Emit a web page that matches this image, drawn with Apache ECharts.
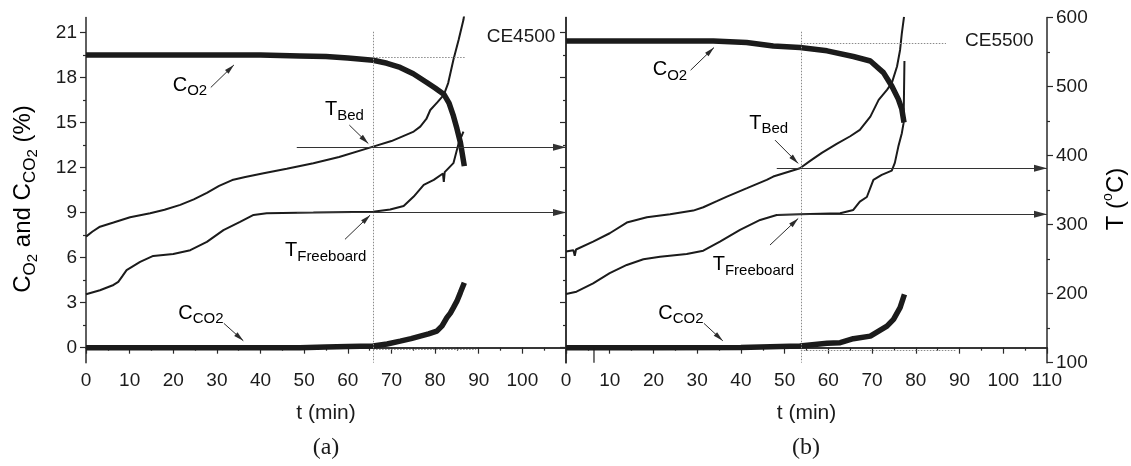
<!DOCTYPE html>
<html>
<head>
<meta charset="utf-8">
<script src="https://cdn.jsdelivr.net/npm/echarts@6/dist/echarts.min.js"></script>
<style>
  html, body { margin: 0; padding: 0; background: #fff; }
  #chart { width: 1131px; height: 466px; }
</style>
</head>
<body>
<div id="chart"></div>
<script>
// ---------- tick values ----------
const timeTicks = [0, 10, 20, 30, 40, 50, 60, 70, 80, 90, 100, 110];
const pctTicks = [0, 3, 6, 9, 12, 15, 18, 21];
const pctMinorTicks = [1.5, 4.5, 7.5, 10.5, 13.5, 16.5, 19.5];
const tempTicks = [100, 200, 300, 400, 500, 600];

// ---------- (a) CE4500 : [t (min), value] ----------
const o2A = [[0,19.5],[10,19.5],[20,19.5],[30,19.5],[40,19.5],[49,19.44],[55,19.4],[60,19.3],[65.8,19.15],
  [69,18.95],[72,18.67],[75,18.25],[78.1,17.67],[80,17.3],[82,16.89],[83.2,16.3],[84.2,15.44],[85,14.6],
  [85.8,13.67],[86.7,12.1]];
const co2A = [[0,0],[20,0],[40,0],[49,0],[55,0.05],[60,0.08],[65.8,0.11],[69,0.25],[72,0.44],[74.5,0.6],
  [76.6,0.77],[78.5,0.92],[80.4,1.1],[81.6,1.45],[82.7,2.0],[83.5,2.3],[84.2,2.67],[85,3.1],[85.8,3.67],[86.7,4.33]];
const tBedA = [[0,282.6],[1.5,290],[3.2,297],[6.3,303],[10.1,310.7],[14.7,316.5],[18,321.5],[21.6,328.6],
  [24.7,336.5],[27.7,346],[30.5,356],[33.5,364.5],[36.5,369],[40.7,374.5],[46,381],[52.1,389],[58,398],
  [65.8,413],[70,421],[75.1,434.8],[76.6,442],[78,453],[78.9,466],[80.5,477],[82,488],[83,505],
  [84.2,538.7],[85.4,567.7],[86.5,596.7],[86.7,605]];
const tFreeA = [[0,199.1],[3.2,205],[6.3,212.6],[7.4,217],[8.3,225],[9.3,234],[12.4,246],[15.4,254.6],
  [20,257.5],[23.9,263],[27.7,275],[31.5,292],[35.3,304],[38.4,314],[41.4,316.5],[52.1,317.4],[65.8,318.8],
  [69.7,322],[72.8,327],[75.1,340.6],[77.4,357.5],[79.7,364.8],[81.8,374],[82.0,362],[82.2,376],
  [84.2,389],[85.4,418],[86.5,434.8]];

// ---------- (b) CE5500 ----------
const o2B = [[0,20.44],[10,20.44],[21.5,20.44],[33.7,20.44],[41.3,20.33],[47.4,20.1],[53.5,20.0],
  [59.7,19.78],[65.7,19.4],[69.6,19.1],[72.6,18.33],[74.5,17.44],[76,16.56],[76.8,15.89],[77.3,15.0]];
const co2B = [[0,0],[20,0],[40,0.02],[53.5,0.11],[59.7,0.29],[62.7,0.33],
  [65.7,0.6],[69.6,0.77],[73.4,1.44],[74.9,1.89],[76.4,2.67],[77.4,3.55]];
const co2BDropout = [[6.4,0],[6.4,-1]];
const tBedB = [[0,261],[1.7,263],[2.0,255],[2.3,264],[6.2,275.4],[10,287.5],[13.9,303],[18.5,310.7],
  [23.8,315],[29.1,320.3],[31.4,325.2],[34.5,334],[36.8,340.6],[41.4,352.8],[45.9,364.8],[47.4,369.6],
  [53.5,381.7],[56,393],[58.5,404],[61.9,417],[65,428],[67.2,437.2],[69.6,456.5],[71.5,480.7],[73.4,495.2],
  [74.5,505],[75.7,529],[76.4,553],[76.8,577],[77.3,601]];
const tFreeB = [[0,199.6],[2.4,202.9],[6.2,215],[10,229.6],[13.9,241.6],[17.7,249.9],[21.5,253.6],
  [27.6,257.5],[31.4,262.3],[35.2,275.4],[39.8,292.3],[44.4,306.8],[48.2,314],[53.5,315],[62.7,316.5],
  [65.7,321.3],[67.2,333.4],[68.8,340],[70.3,364.8],[72.2,372],[74.5,378.3],[75.2,389.4],[76,413],
  [76.8,432.5],[77.2,447],[77.4,537]];

// ---------- reading guides ----------
const guideA = { t: 65.8, o2: 19.37, co2: -0.1, tBed: 412, tFree: 317.4, o2End: 87.1, co2End: 89.4, arrowFrom: 48.3 };
const guideB = { t: 53.7, o2: 20.27, co2: -0.15, tBed: 381.7, tFree: 315, o2End: 86.9, co2End: 89.2, arrowFrom: 48.2 };

// label pointer arrows, in (t, %) units: [from, to]
const pointersA = [[[28.6,17.34],[33.9,18.84]], [[60.35,14.83],[64.7,13.6]], [[59.35,7.22],[65.1,8.83]], [[31.6,1.62],[36.05,0.46]]];
const pointersB = [[[28.5,18.49],[33.85,20.0]], [[47.8,13.83],[53.1,12.28]], [[46.65,6.84],[53.1,8.61]], [[31.55,1.62],[35.85,0.46]]];

// ---------- styling ----------
const FONT = '"Liberation Sans", Arial, Helvetica, sans-serif';
const SERIF = '"Liberation Serif", "Times New Roman", serif';
const INK = '#1b1b1b';
const AXIS = '#2a2a2a';
// arrow head whose tip sits on the end point
const HEAD = 'path://M5,16L10,32L0,32ZM5,0';

const subRich = {
  m: { fontSize: 20, fontFamily: FONT, color: INK },
  s: { fontSize: 15, fontFamily: FONT, color: INK, padding: [12, 0, 0, 0] }
};
const titleRich = {
  m: { fontSize: 24, fontFamily: FONT, color: INK },
  s: { fontSize: 17, fontFamily: FONT, color: INK, padding: [14, 0, 0, 0] },
  ss: { fontSize: 15, fontFamily: FONT, color: INK, padding: [20, 0, 0, 0] },
  sup: { fontSize: 14, fontFamily: FONT, color: INK, padding: [0, 0, 16, 0] }
};

function xAxes(gridIndex, hideLast) {
  return [{
    type: 'value', gridIndex, min: 0, max: 110, interval: 10, position: 'bottom',
    axisLine: { lineStyle: { color: AXIS, width: 1.5 } },
    axisTick: { length: 6, lineStyle: { color: AXIS, width: 1.2 } },
    minorTick: { show: true, splitNumber: 2, length: 3, lineStyle: { color: AXIS, width: 1.2 } },
    splitLine: { show: false },
    axisLabel: {
      fontSize: 19, fontFamily: FONT, color: INK, margin: 9,
      formatter: v => (hideLast && v === 110) ? '' : String(v)
    },
    name: 't (min)', nameLocation: 'middle', nameGap: 40,
    nameTextStyle: { fontSize: 21, fontFamily: FONT, color: INK }
  }, {
    type: 'value', gridIndex, min: 0, max: 110, interval: 10, position: 'top',
    axisLine: { lineStyle: { color: AXIS, width: 1.5 } },
    axisTick: { inside: true, length: 2, lineStyle: { color: AXIS } },
    axisLabel: { show: false }, splitLine: { show: false }
  }];
}

function pctAxes(gridIndex, withLabels) {
  return [{
    type: 'value', gridIndex, min: -1, max: 22, position: 'left',
    axisLine: { show: true, lineStyle: { color: AXIS, width: 1.5 } },
    axisTick: { length: 6, customValues: pctTicks, lineStyle: { color: AXIS, width: 1.2 } },
    axisLabel: { show: withLabels, customValues: pctTicks, fontSize: 19, fontFamily: FONT, color: INK, margin: 9 },
    splitLine: { show: false }
  }, {
    type: 'value', gridIndex, min: -1, max: 22, position: 'left',
    axisLine: { show: false },
    axisTick: { length: 3, customValues: pctMinorTicks, lineStyle: { color: AXIS, width: 1.2 } },
    axisLabel: { show: false, customValues: pctMinorTicks },
    splitLine: { show: false }
  }];
}

function tempAxis(gridIndex, withLabels) {
  return {
    type: 'value', gridIndex, min: 100, max: 600, interval: 100, position: 'right',
    axisLine: { show: true, lineStyle: { color: AXIS, width: 1.5 } },
    axisTick: { show: withLabels, length: 6, lineStyle: { color: AXIS, width: 1.2 } },
    minorTick: { show: withLabels, splitNumber: 2, length: 3, lineStyle: { color: AXIS, width: 1.2 } },
    axisLabel: { show: withLabels, fontSize: 19, fontFamily: FONT, color: INK, margin: 9 },
    splitLine: { show: false }
  };
}

function dotted(a, b) {
  return [{ coord: a, symbol: 'none' }, { coord: b, symbol: 'none' }];
}
function arrow(a, b, w, h) {
  return [{ coord: a, symbol: 'none' }, { coord: b, symbol: HEAD, symbolSize: [w, h] }];
}

function panelSeries(xi, yPct, yT, o2, co2, tBed, tFree, g, pointers) {
  const base = { type: 'line', xAxisIndex: xi, showSymbol: false, symbol: 'none', animation: false, z: 3 };
  return [
    Object.assign({}, base, {
      name: 'O2', yAxisIndex: yPct, data: o2,
      lineStyle: { color: INK, width: 5.5 },
      markLine: {
        silent: true, animation: false, label: { show: false },
        data: [
          dotted([g.t, 21.05], [g.t, -1]),
          dotted([g.t, g.o2], [g.o2End, g.o2]),
          dotted([g.t, g.co2], [g.co2End, g.co2])
        ],
        lineStyle: { color: '#8a8a8a', width: 1, type: [1.5, 1.5] }
      }
    }),
    Object.assign({}, base, {
      name: 'CO2', yAxisIndex: yPct, data: co2,
      lineStyle: { color: INK, width: 5.5 },
      markLine: {
        silent: true, animation: false, label: { show: false },
        lineStyle: { color: '#2b2b2b', width: 1, type: 'solid' },
        data: pointers.map(p => arrow(p[0], p[1], 5, 20))
      }
    }),
    Object.assign({}, base, {
      name: 'T_bed', yAxisIndex: yT, data: tBed,
      lineStyle: { color: INK, width: 2 },
      markLine: {
        silent: true, animation: false, label: { show: false },
        lineStyle: { color: '#333', width: 1.2, type: 'solid' },
        data: [
          arrow([g.arrowFrom, g.tBed], [110, g.tBed], 7, 26),
          arrow([g.arrowFrom, g.tFree], [110, g.tFree], 7, 26)
        ]
      }
    }),
    Object.assign({}, base, {
      name: 'T_freeboard', yAxisIndex: yT, data: tFree,
      lineStyle: { color: INK, width: 2 }
    })
  ];
}

function label(x, y, text) {
  return { type: 'text', x, y, z: 10, style: { text, rich: subRich, verticalAlign: 'top', align: 'left' } };
}
function plain(x, y, text, font, size, align) {
  return { type: 'text', x, y, z: 10,
    style: { text, fontSize: size, fontFamily: font, fill: INK, verticalAlign: 'top', align: align || 'left' } };
}
function vTitle(x, y, text) {
  return { type: 'text', x, y, rotation: Math.PI / 2, z: 10,
    style: { text, rich: titleRich, align: 'center', verticalAlign: 'middle' } };
}

const option = {
  backgroundColor: '#fff',
  animation: false,
  grid: [
    { left: 86, top: 17.5, width: 480, height: 345.2, containLabel: false },
    { left: 566, top: 17.5, width: 481, height: 345.2, containLabel: false }
  ],
  xAxis: [...xAxes(0, true), ...xAxes(1, false)],
  yAxis: [...pctAxes(0, true), tempAxis(0, false), ...pctAxes(1, false), tempAxis(1, true)],
  series: [
    ...panelSeries(0, 0, 2, o2A, co2A, tBedA, tFreeA, guideA, pointersA),
    ...panelSeries(2, 3, 5, o2B, co2B, tBedB, tFreeB, guideB, pointersB),
    { type: 'line', name: 'CO2 dropout', xAxisIndex: 2, yAxisIndex: 3, data: co2BDropout,
      showSymbol: false, symbol: 'none', animation: false, lineStyle: { color: INK, width: 1.2 } }
  ],
  graphic: [
    vTitle(23, 199, '{m|C}{s|O}{ss|2}{m| and C}{s|CO}{ss|2}{m| (%)}'),
    vTitle(1116, 199, '{m|T (}{sup|o}{m|C)}'),
    label(172.7, 71.8, '{m|C}{s|O2}'),
    label(325, 96, '{m|T}{s|Bed}'),
    label(285, 237, '{m|T}{s|Freeboard}'),
    label(178.3, 299.5, '{m|C}{s|CO2}'),
    plain(486.7, 27, 'CE4500', FONT, 19),
    label(652.7, 56, '{m|C}{s|O2}'),
    label(749.3, 109.5, '{m|T}{s|Bed}'),
    label(712.7, 251, '{m|T}{s|Freeboard}'),
    label(658.3, 299.5, '{m|C}{s|CO2}'),
    plain(965, 31, 'CE5500', FONT, 19),
    plain(326, 436, '(a)', SERIF, 24, 'center'),
    plain(806, 436, '(b)', SERIF, 24, 'center')
  ]
};

const chart = echarts.init(document.getElementById('chart'), null, { renderer: 'canvas' });
chart.setOption(option);
</script>
</body>
</html>
